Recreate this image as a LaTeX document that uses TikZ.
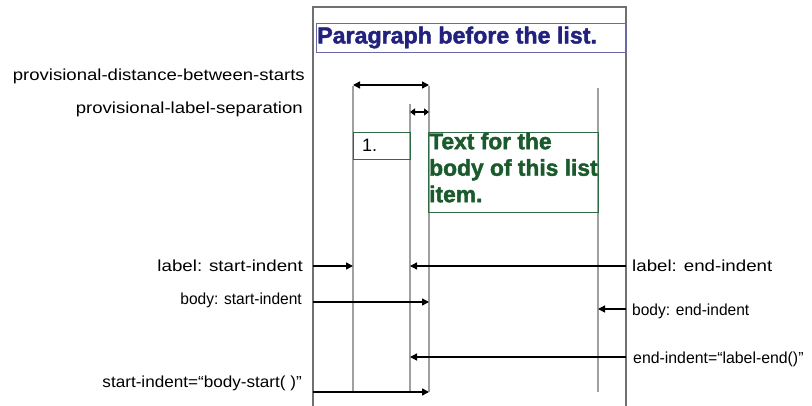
\documentclass[tikz,border=0pt]{standalone}
\usepackage{fontspec}
\setmainfont{Liberation Sans}
\newfontfamily\heavyfont{Liberation Sans Bold}[RawFeature={embolden=1.8}]
\usepackage{graphicx}
\usetikzlibrary{arrows.meta}
\definecolor{framegray}{HTML}{707070}
\definecolor{guidegray}{HTML}{A0A0A0}
\definecolor{parablue}{HTML}{22227E}
\definecolor{paraedge}{HTML}{6A6AA6}
\definecolor{bodygreen}{HTML}{1A5A2C}
\definecolor{boxgreen}{HTML}{2E6A44}
\tikzset{
  frameline/.style={draw=framegray,line width=1.6pt},
  guide/.style={draw=guidegray,line width=1.3pt},
  dimarrow/.style={draw=black,line width=1.4pt,-{Triangle[length=7pt,width=7pt]}},
  dimboth/.style={draw=black,line width=1.4pt,{Triangle[length=7pt,width=7pt]}-{Triangle[length=7pt,width=7pt]}},
  lefttxt/.style={anchor=east,inner sep=0pt,font=\fontsize{16}{18}\selectfont},
  righttxt/.style={anchor=west,inner sep=0pt,font=\fontsize{16}{18}\selectfont},
}
\begin{document}
\begin{tikzpicture}[x=1pt,y=-1pt]
\useasboundingbox (0,0) rectangle (812,406);
% outer frame
\coordinate (FLb) at (313,406);
\coordinate (FLt) at (313,7);
\coordinate (FRt) at (626,7);
\coordinate (FRb) at (626,406);
\draw[frameline] (FLb) -- (FLt) -- (FRt) -- (FRb);
% paragraph box
\node[draw=paraedge,line width=1pt,minimum width=310pt,minimum height=29pt,anchor=north west,inner sep=0pt] (para) at (316,23) {};
\node[anchor=west,inner sep=0pt,text=parablue,font=\fontsize{23.2}{24}\heavyfont] (paratext) at (317,37.5) {Paragraph before the list.};
% guide lines
\coordinate (A1) at (353,86);  \coordinate (A2) at (353,392);
\coordinate (B1) at (410,104); \coordinate (B2) at (410,392);
\coordinate (C1) at (429,86);  \coordinate (C2) at (429,392);
\coordinate (D1) at (598,88);  \coordinate (D2) at (598,392);
\draw[guide] (A1) -- (A2);
\draw[guide] (B1) -- (B2);
\draw[guide] (C1) -- (C2);
\draw[guide] (D1) -- (D2);
% label box and body box
\node[draw=boxgreen,line width=1pt,minimum width=57pt,minimum height=27pt,anchor=north west,inner sep=0pt] (lbox) at (353,132) {};
\node[anchor=west,inner sep=0pt,font=\fontsize{18}{20}\selectfont] (one) at (362,145) {1.};
\node[draw=boxgreen,line width=1pt,minimum width=170pt,minimum height=80pt,anchor=north west,inner sep=0pt] (bbox) at (428,132) {};
\node[anchor=north west,inner sep=0pt,text=bodygreen,align=left,font=\fontsize{22.8}{26.5}\heavyfont] (btext) at (429,132.5) {Text for the\\body of this list\\item.};
% top dimension arrows
\coordinate (pd1) at (353,85); \coordinate (pd2) at (429,85);
\draw[dimboth] (pd1) -- (pd2);
\coordinate (ps1) at (410,112); \coordinate (ps2) at (429,112);
\draw[black,line width=1.4pt,{Triangle[length=5pt,width=7pt]}-{Triangle[length=5pt,width=7pt]}] (ps1) -- (ps2);
\node[lefttxt] (tpd) at (305,76) {\scalebox{1.16}[1]{provisional-distance-between-starts}};
\node[lefttxt] (tps) at (303,109) {\scalebox{1.16}[1]{provisional-label-separation}};
% label start-indent
\coordinate (ls0) at (313,266); \coordinate (ls1) at (353,266);
\draw[dimarrow] (ls0) -- (ls1);
\node[lefttxt] (tls) at (303,266) {\scalebox{1.17}[1]{label: start-indent}};
% label end-indent
\coordinate (le0) at (626,266); \coordinate (le1) at (410,266);
\draw[dimarrow] (le0) -- (le1);
\node[righttxt] (tle) at (632,266) {\scalebox{1.17}[1]{label: end-indent}};
% body start-indent
\coordinate (bs0) at (313,302); \coordinate (bs1) at (429,302);
\draw[dimarrow] (bs0) -- (bs1);
\node[lefttxt] (tbs) at (302,300) {\scalebox{0.97}[1]{body: start-indent}};
% body end-indent
\coordinate (be0) at (626,309); \coordinate (be1) at (598,309);
\draw[dimarrow] (be0) -- (be1);
\node[righttxt] (tbe) at (632,311) {\scalebox{0.97}[1]{body: end-indent}};
% end-indent = label-end()
\coordinate (ee0) at (626,357); \coordinate (ee1) at (410,357);
\draw[dimarrow] (ee0) -- (ee1);
\node[righttxt] (tee) at (633,359) {\scalebox{0.99}[1]{end-indent=“label-end()”}};
% start-indent = body-start()
\coordinate (ss0) at (313,392); \coordinate (ss1) at (429,392);
\draw[dimarrow] (ss0) -- (ss1);
\node[lefttxt] (tss) at (302,383) {\scalebox{1.07}[1]{start-indent=“body-start( )”}};
\end{tikzpicture}
\end{document}
